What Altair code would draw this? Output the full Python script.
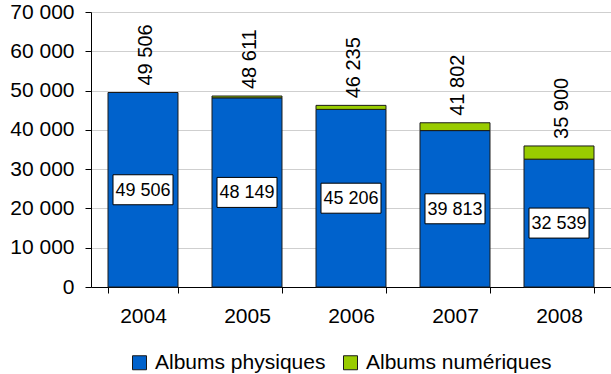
import altair as alt
import pandas as pd

# Album sales (thousands of units), physical vs digital
years = ["2004", "2005", "2006", "2007", "2008"]
physiques = [49506, 48149, 45206, 39813, 32539]
totaux = [49506, 48611, 46235, 41802, 35900]
numeriques = [t - p for t, p in zip(totaux, physiques)]
y_ticks = [0, 10000, 20000, 30000, 40000, 50000, 60000, 70000]

series = ["Albums physiques", "Albums numériques"]
colors = ["#0062CC", "#99CC00"]


def fr(n):
    return f"{n:,}".replace(",", " ")


long_rows = []
for y, p, n in zip(years, physiques, numeriques):
    long_rows.append({"annee": y, "serie": series[0], "valeur": p, "ordre": 0})
    long_rows.append({"annee": y, "serie": series[1], "valeur": n, "ordre": 1})
long_df = pd.DataFrame(long_rows)

wide_df = pd.DataFrame({
    "annee": years,
    "physiques": physiques,
    "total": totaux,
    "milieu": [p / 2 for p in physiques],
    "label_phys": [fr(p) for p in physiques],
    "label_total": [fr(t) for t in totaux],
})

FONT = "Liberation Sans"

x_axis = alt.Axis(
    labelAngle=0, labelFontSize=21, labelFont=FONT, labelColor="black",
    tickBand="extent", tickSize=6, tickColor="black", domainColor="black",
    labelPadding=12, grid=False,
)
x_scale = alt.Scale(paddingInner=0.327, paddingOuter=0.1635)

y_axis = alt.Axis(
    values=y_ticks,
    labelExpr="replace(format(datum.value, ','), ',', ' ')",
    labelFontSize=21, labelFont=FONT, labelColor="black",
    labelOverlap=False,
    tickSize=6, tickColor="black", domainColor="black",
    labelPadding=11, gridColor="#CFCFCF", gridWidth=1.2,
)
y_scale = alt.Scale(domain=[0, 70000], nice=False)


def xe():
    return alt.X("annee:N", title=None, sort=years, scale=x_scale, axis=x_axis)


def ye(field, **kw):
    return alt.Y(field, title=None, scale=y_scale, axis=y_axis, **kw)


bars = alt.Chart(long_df).mark_bar(stroke="#1a1a1a", strokeWidth=1).encode(
    x=xe(),
    y=ye("valeur:Q", stack="zero"),
    color=alt.Color(
        "serie:N",
        scale=alt.Scale(domain=series, range=colors),
        legend=alt.Legend(
            title=None, orient="none", direction="horizontal",
            legendX=38, legendY=340,
            symbolType="square", symbolSize=196,
            symbolStrokeColor="#1a1a1a", symbolStrokeWidth=1,
            labelFontSize=21, labelFont=FONT, labelColor="black",
            labelLimit=0,
            labelOffset=5, columnPadding=14, symbolOpacity=1,
        ),
    ),
    order=alt.Order("ordre:Q"),
)

boxes = alt.Chart(wide_df).mark_rect(
    width=60, height=30, fill="white", stroke="black", strokeWidth=1
).encode(
    x=xe(),
    y=ye("milieu:Q"),
)

inner_text = alt.Chart(wide_df).mark_text(
    fontSize=18, font=FONT, color="black", align="center", baseline="middle", dy=1
).encode(
    x=xe(),
    y=ye("milieu:Q"),
    text="label_phys:N",
)

total_text = alt.Chart(wide_df).mark_text(
    fontSize=20, font=FONT, color="black", align="left", baseline="middle",
    angle=270, dx=7, dy=3,
).encode(
    x=xe(),
    y=ye("total:Q"),
    text="label_total:N",
)

chart = alt.layer(bars, boxes, inner_text, total_text).properties(
    width=520,
    height=275,
    autosize=alt.AutoSizeParams(type="none"),
    padding={"left": 91, "top": 12, "right": 0, "bottom": 87},
).configure_view(stroke=None).configure(background="white")

chart.save("out.html", embed_options={"renderer": "svg", "actions": False})
